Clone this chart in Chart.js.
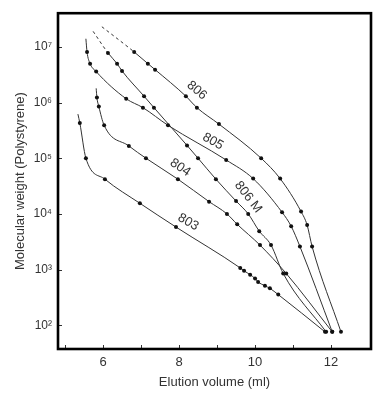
<!DOCTYPE html>
<html>
<head>
<meta charset="utf-8">
<script src="https://cdn.jsdelivr.net/npm/chart.js@4"></script>
<style>
  html, body { margin: 0; background: #fff; }
  #wrap { width: 381px; height: 393px; }
</style>
</head>
<body>
<div id="wrap"><canvas id="c" width="381" height="393"></canvas></div>
<script>
// --- Datos (volumen de elución en ml, peso molecular) ---
const X_806  = [5.97, 6.82, 7.18, 7.37, 8.18, 8.47, 9.05, 10.16, 10.66, 11.21, 11.37, 11.50, 12.26];
const Y_806  = [2.3e7, 8.1e6, 5.0e6, 3.9e6, 1.3e6, 8.1e5, 4.1e5, 1.0e5, 4.3e4, 1.1e4, 6300, 2600, 76];

const X_805  = [5.55, 5.58, 5.66, 5.82, 6.61, 7.05, 7.71, 9.24, 9.95, 10.71, 10.95, 11.18, 12.03];
const Y_805  = [1.4e7, 8.1e6, 5.0e6, 3.6e6, 1.17e6, 8.1e5, 3.9e5, 9.3e4, 4.3e4, 1.07e4, 6000, 2600, 76];

const X_806M = [5.74, 6.13, 6.37, 6.50, 7.08, 7.34, 8.21, 8.50, 8.97, 9.50, 9.82, 10.11, 10.42, 10.74, 11.87];
const Y_806M = [1.9e7, 7.8e6, 5.0e6, 3.7e6, 1.3e6, 8.1e5, 1.7e5, 1.0e5, 4.2e4, 1.7e4, 1.0e4, 4900, 2750, 850, 76];

const X_804  = [5.82, 5.84, 5.89, 6.03, 6.68, 7.13, 7.97, 8.79, 9.26, 9.53, 10.13, 10.82, 12.03];
const Y_804  = [1.8e6, 1.23e6, 8.5e5, 3.9e5, 1.66e5, 1.0e5, 4.2e4, 1.66e4, 1.0e4, 6500, 2750, 850, 76];

const X_803  = [5.34, 5.39, 5.55, 6.05, 6.97, 7.92, 9.61, 9.71, 9.87, 10.0, 10.08, 10.26, 10.39, 10.61, 11.84];
const Y_803  = [6.2e5, 4.3e5, 1.0e5, 4.2e4, 1.55e4, 5800, 1070, 950, 810, 690, 600, 510, 460, 355, 76];

// ticks
const X_TICKS = [5, 6, 7, 8, 9, 10, 11, 12];
const X_LABELS = [6, 8, 10, 12];
const Y_TICKS = [1e2, 1e3, 1e4, 1e5, 1e6, 1e7];

// etiquetas de las curvas (texto, x, y, ángulo)
const CURVE_LABELS = [
  { text: '806',   x: 8.47, y: 1.65e6, rot: 40 },
  { text: '805',   x: 8.89, y: 2.0e5,  rot: 30 },
  { text: '804',   x: 8.03, y: 6.8e4,  rot: 34 },
  { text: '803',   x: 8.24, y: 7.1e3,  rot: 30 },
  { text: '806 M', x: 9.82, y: 2.0e4,  rot: 52 },
];

const INK = '#333';
const FONT = '"Liberation Sans", Arial, sans-serif';
const SUP = { 2: '\u00b2', 3: '\u00b3', 4: '\u2074', 5: '\u2075', 6: '\u2076', 7: '\u2077' };

function serie(xs, ys, opts) {
  const n = xs.length;
  const radius = xs.map((_, i) => (i === 0 && opts.openStart) ? 0 : 2);
  return {
    data: xs.map((x, i) => ({ x, y: ys[i] })),
    borderColor: INK,
    borderWidth: 1,
    pointRadius: radius,
    pointBackgroundColor: '#111',
    pointBorderWidth: 0,
    cubicInterpolationMode: 'monotone',
    fill: false,
    segment: {
      borderDash: ctx => (opts.dashStart && ctx.p0DataIndex === 0) ? [3, 3] : undefined
    }
  };
}

// marco y marcas hacia dentro + etiquetas de curvas
const framePlugin = {
  id: 'frame',
  afterDatasetsDraw(chart) {
    const { ctx, chartArea: a, scales: { x, y } } = chart;
    ctx.save();
    ctx.strokeStyle = INK;
    ctx.lineWidth = 1;
    ctx.beginPath();
    X_TICKS.forEach(v => {
      const px = Math.round(x.getPixelForValue(v)) + 0.5;
      ctx.moveTo(px, a.bottom); ctx.lineTo(px, a.bottom - 4);
    });
    Y_TICKS.forEach(v => {
      const py = Math.round(y.getPixelForValue(v)) + 0.5;
      ctx.moveTo(a.left, py); ctx.lineTo(a.left + 4, py);
    });
    ctx.stroke();

    ctx.strokeStyle = '#000';
    ctx.lineWidth = 2.6;
    ctx.strokeRect(a.left, a.top, a.right - a.left, a.bottom - a.top);

    ctx.fillStyle = INK;
    ctx.font = '13px ' + FONT;
    ctx.textAlign = 'center';
    ctx.textBaseline = 'middle';
    CURVE_LABELS.forEach(l => {
      ctx.save();
      ctx.translate(x.getPixelForValue(l.x), y.getPixelForValue(l.y));
      ctx.rotate(l.rot * Math.PI / 180);
      ctx.fillText(l.text, 0, 0);
      ctx.restore();
    });
    ctx.restore();
  }
};

new Chart(document.getElementById('c'), {
  type: 'line',
  data: {
    datasets: [
      serie(X_806,  Y_806,  { openStart: true, dashStart: true }),
      serie(X_805,  Y_805,  { openStart: true }),
      serie(X_806M, Y_806M, { openStart: true, dashStart: true }),
      serie(X_804,  Y_804,  { openStart: true }),
      serie(X_803,  Y_803,  { openStart: true }),
    ]
  },
  options: {
    responsive: false,
    animation: false,
    layout: { padding: { left: 0, top: 10, right: 10, bottom: 0 } },
    plugins: { legend: { display: false }, tooltip: { enabled: false } },
    scales: {
      x: {
        type: 'linear',
        min: 4.816, max: 13.05,
        afterBuildTicks: s => { s.ticks = X_TICKS.map(v => ({ value: v })); },
        afterFit: s => { s.height = 44; },
        grid: { display: false, drawTicks: false },
        border: { display: false },
        ticks: {
          autoSkip: false, maxRotation: 0, padding: 6,
          color: INK, font: { family: FONT, size: 13 },
          callback: v => X_LABELS.includes(v) ? String(v) : ''
        },
        title: {
          display: true, text: 'Elution volume (ml)', color: INK,
          font: { family: FONT, size: 13 }, padding: { top: 0, bottom: 3 }
        }
      },
      y: {
        type: 'logarithmic',
        min: Math.pow(10, 1.573), max: Math.pow(10, 7.605),
        afterBuildTicks: s => { s.ticks = Y_TICKS.map(v => ({ value: v })); },
        afterFit: s => { s.width = 58; },
        grid: { display: false, drawTicks: false },
        border: { display: false },
        ticks: {
          autoSkip: false, padding: 6,
          color: INK, font: { family: FONT, size: 12 },
          callback: v => '10' + SUP[Math.round(Math.log10(v))]
        },
        title: {
          display: true, text: 'Molecular weight (Polystyrene)', color: INK,
          font: { family: FONT, size: 13 }, padding: { top: 13, bottom: 0 }
        }
      }
    }
  },
  plugins: [framePlugin]
});
</script>
</body>
</html>
